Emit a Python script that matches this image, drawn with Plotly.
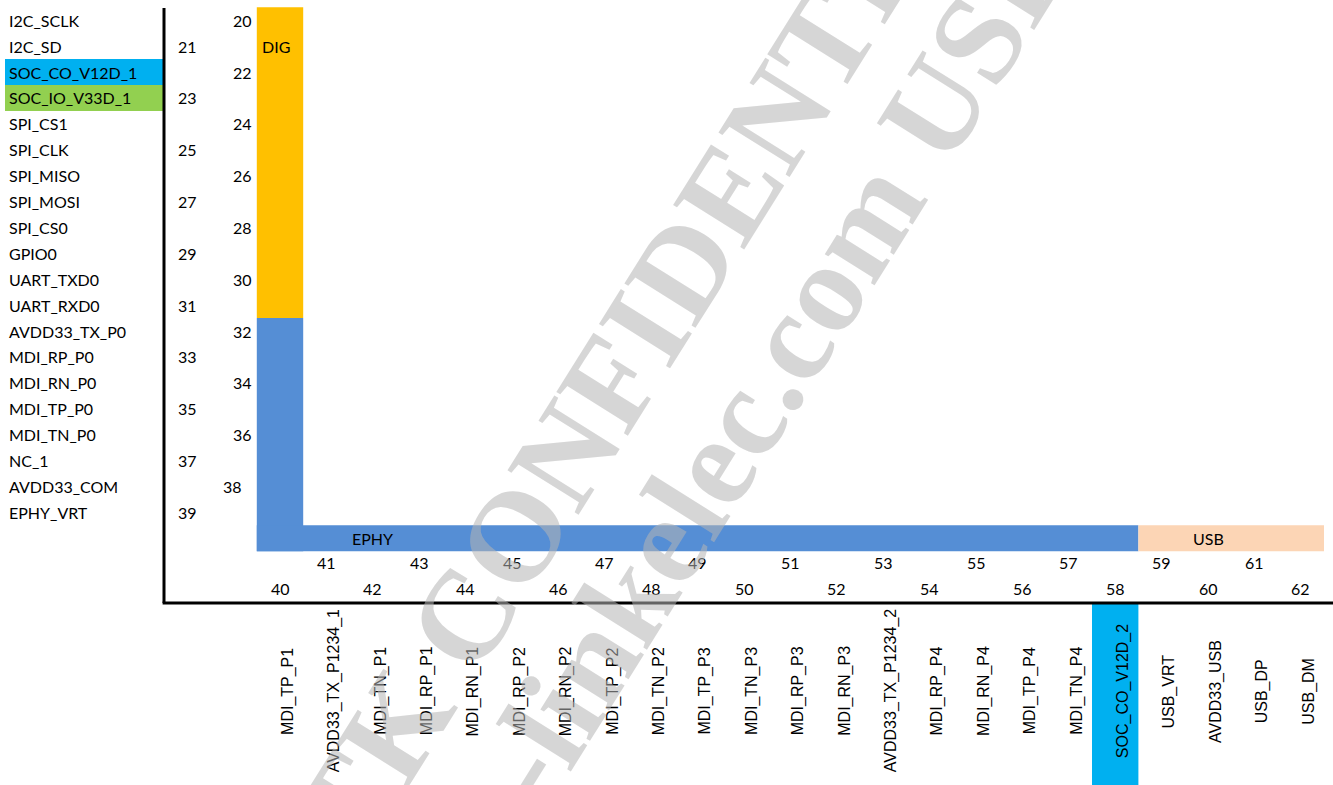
import plotly.graph_objects as go

# ---------------- data ----------------
left_pins = list(range(20, 40))
left_names = ["I2C_SCLK", "I2C_SD", "SOC_CO_V12D_1", "SOC_IO_V33D_1", "SPI_CS1",
              "SPI_CLK", "SPI_MISO", "SPI_MOSI", "SPI_CS0", "GPIO0", "UART_TXD0",
              "UART_RXD0", "AVDD33_TX_P0", "MDI_RP_P0", "MDI_RN_P0", "MDI_TP_P0",
              "MDI_TN_P0", "NC_1", "AVDD33_COM", "EPHY_VRT"]
bottom_pins = list(range(40, 63))
bottom_names = ["MDI_TP_P1", "AVDD33_TX_P1234_1", "MDI_TN_P1", "MDI_RP_P1", "MDI_RN_P1",
                "MDI_RP_P2", "MDI_RN_P2", "MDI_TP_P2", "MDI_TN_P2", "MDI_TP_P3",
                "MDI_TN_P3", "MDI_RP_P3", "MDI_RN_P3", "AVDD33_TX_P1234_2", "MDI_RP_P4",
                "MDI_RN_P4", "MDI_TP_P4", "MDI_TN_P4", "SOC_CO_V12D_2", "USB_VRT",
                "AVDD33_USB", "USB_DP", "USB_DM"]
group_names = ["DIG", "EPHY", "USB"]
group_first_pin = [20, 32, 59]
group_last_pin = [31, 58, 62]
group_label_pin = [21, 42, 60]
highlight_pins = [22, 23, 58]
watermark_lines = ["RTK CONFIDENTIAL", "-linkelec.com USE"]

# ---------------- styles ----------------
group_colors = ["#FFC000", "#558ED5", "#FCD5B5"]
highlight_colors = ["#00B0F0", "#92D050", "#00B0F0"]
CAL = "Lato"
ARIAL = "Liberation Sans"
W, H = 1333, 785
COL_PX, COL0_PX = 46.4, 280.0      # pixel size / centre of column 0
ROW_PX, ROW0_TOP = 25.9, 7.3       # pixel size / top of row 0
CORNER_ROW = 20                    # row of the horizontal bar
X_RANGE = [-COL0_PX / COL_PX, (W - COL0_PX) / COL_PX]
Y_RANGE = [(H - ROW0_TOP) / ROW_PX - 0.5, -ROW0_TOP / ROW_PX - 0.5]
LEFT_EDGE = -2.5                   # column boundary of left black line
LABEL_X = (7 - COL0_PX) / COL_PX
HL_X0 = (5 - COL0_PX) / COL_PX
WM_ANGLE, WM_SIZE = -58, 128
WM_CENTERS = [(622, 364), (776, 362)]


def row_of(pin):
    return pin - left_pins[0]


def col_of(pin):
    return pin - bottom_pins[0]


shapes = []
annotations = []


def rect(x0, x1, y0, y1, color):
    shapes.append(dict(type="rect", xref="x", yref="y", x0=x0, x1=x1, y0=y0, y1=y1,
                       fillcolor=color, line=dict(width=0), layer="below"))


# highlights
for p, c in zip(highlight_pins, highlight_colors):
    if p in left_pins:
        r = row_of(p)
        rect(HL_X0, LEFT_EDGE, r - 0.5, r + 0.5, c)
    else:
        k = col_of(p)
        rect(k - 0.5, k + 0.5, 22.5, Y_RANGE[0] + 1, c)

# group bars
for name, a, b, c, lp in zip(group_names, group_first_pin, group_last_pin,
                             group_colors, group_label_pin):
    left_part = [p for p in range(a, b + 1) if p in left_pins]
    bot_part = [p for p in range(a, b + 1) if p in bottom_pins]
    if left_part:
        top = row_of(left_part[0]) - 0.5
        bot = row_of(left_part[-1]) + 0.5 if not bot_part else CORNER_ROW + 0.5
        rect(-0.5, 0.5, top, bot, c)
    if bot_part:
        rect(col_of(bot_part[0]) - 0.5, col_of(bot_part[-1]) + 0.5,
             CORNER_ROW - 0.5, CORNER_ROW + 0.5, c)
    if lp in left_pins:
        annotations.append(dict(x=-0.43, y=row_of(lp), text=name, xanchor="left",
                                font=dict(family=CAL, size=16, color="black")))
    else:
        annotations.append(dict(x=col_of(lp), y=CORNER_ROW, text=name, xanchor="center",
                                font=dict(family=CAL, size=16, color="black")))

# axes lines
shapes.append(dict(type="line", xref="x", yref="y", x0=LEFT_EDGE, x1=LEFT_EDGE,
                   y0=-0.47, y1=22.5, line=dict(color="black", width=3)))
shapes.append(dict(type="line", xref="x", yref="y", x0=LEFT_EDGE - 0.03, x1=X_RANGE[1],
                   y0=22.5, y1=22.5, line=dict(color="black", width=3)))

# left pin names and numbers
num_nudge = {38: -0.23}
for p, n in zip(left_pins, left_names):
    r = row_of(p)
    annotations.append(dict(x=LABEL_X, y=r, text=n, xanchor="left",
                            font=dict(family=CAL, size=16, color="black")))
    nx = (-2.0 if p % 2 else -0.8) + num_nudge.get(p, 0)
    annotations.append(dict(x=nx, y=r, text=str(p), xanchor="center",
                            font=dict(family=CAL, size=16, color="black")))

# bottom pin numbers and names
for p, n in zip(bottom_pins, bottom_names):
    k = col_of(p)
    annotations.append(dict(x=k, y=20.95 if p % 2 else 21.93, text=str(p), xanchor="center",
                            font=dict(family=CAL, size=16, color="black")))
    annotations.append(dict(x=k + 0.17, y=25.9, text=n, textangle=-90,
                            xanchor="center", yanchor="middle",
                            font=dict(family=ARIAL, size=16, color="black")))

for a in annotations:
    a.setdefault("xref", "x")
    a.setdefault("yref", "y")
    a.setdefault("showarrow", False)
    a.setdefault("yanchor", "middle")

# watermark (semi-transparent, on top)
for t, (cx, cy) in zip(watermark_lines, WM_CENTERS):
    annotations.append(dict(xref="paper", yref="paper", x=cx / W, y=1 - cy / H,
                            text=t, textangle=WM_ANGLE, showarrow=False,
                            xanchor="center", yanchor="middle",
                            font=dict(family="Liberation Serif", size=WM_SIZE,
                                      color="rgba(180,180,180,0.55)", weight="bold")))

fig = go.Figure()
fig.add_trace(go.Scatter(x=[0], y=[0], mode="markers", marker=dict(opacity=0),
                         hoverinfo="skip", showlegend=False))
fig.update_layout(
    width=W, height=H, autosize=False,
    margin=dict(l=0, r=0, t=0, b=0),
    paper_bgcolor="white", plot_bgcolor="white",
    xaxis=dict(range=X_RANGE, visible=False, fixedrange=True),
    yaxis=dict(range=Y_RANGE, visible=False, fixedrange=True),
    shapes=shapes, annotations=annotations, showlegend=False,
)
fig.write_html("out.html", config={"displayModeBar": False},
               post_script="document.body.style.margin='0px';"
                           "document.body.style.overflow='hidden';")
